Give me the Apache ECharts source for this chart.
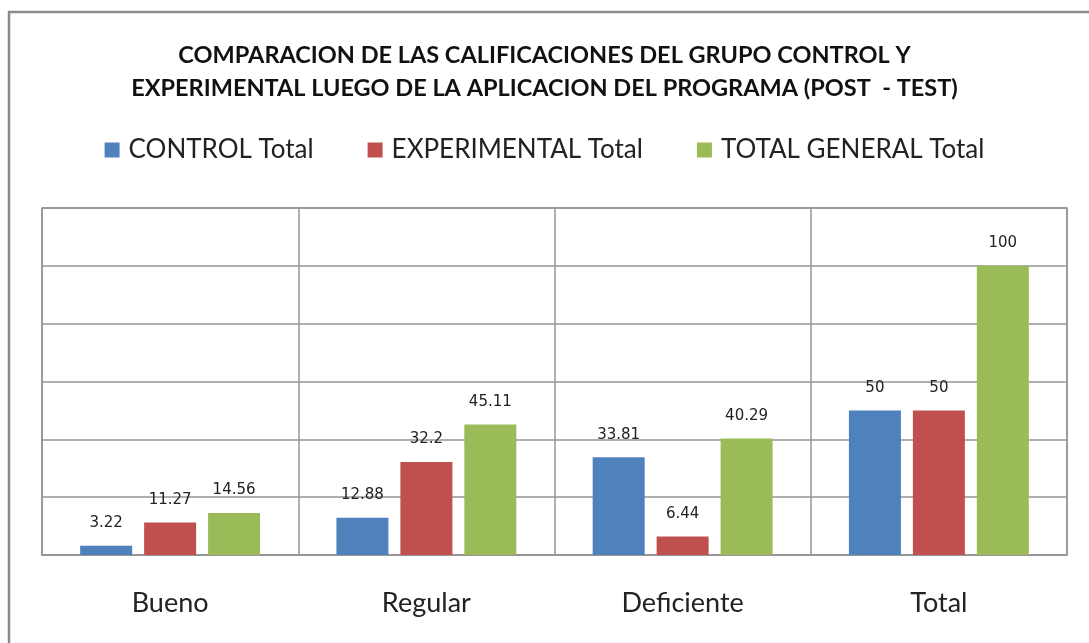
<!DOCTYPE html>
<html>
<head>
<meta charset="utf-8">
<script src="https://cdn.jsdelivr.net/npm/echarts@6/dist/echarts.min.js"></script>
<style>
  html, body { margin: 0; padding: 0; background: #fff; }
  #chart { width: 1089px; height: 643px; }
</style>
</head>
<body>
<div id="chart"></div>
<script>
// datos
var categorias = ['Bueno', 'Regular', 'Deficiente', 'Total'];
var control = [3.22, 12.88, 33.81, 50];
var experimental = [11.27, 32.2, 6.44, 50];
var totalGeneral = [14.56, 45.11, 40.29, 100];
var nombres = ['CONTROL Total', 'EXPERIMENTAL Total', 'TOTAL GENERAL Total'];
var colores = ['#4F81BD', '#C0504D', '#9BBB59'];

var GRIS = '#959595';

function serie(nombre, datos, color) {
    return {
        name: nombre,
        type: 'bar',
        data: datos,
        barWidth: 52,
        barGap: '23%',
        itemStyle: { color: color },
        label: {
            show: true,
            position: 'top',
            distance: 15,
            color: '#222',
            fontFamily: 'DejaVu Sans',
            fontSize: 15
        }
    };
}

var myChart = echarts.init(document.getElementById('chart'));
myChart.setOption({
    animation: false,
    backgroundColor: '#fff',
    color: colores,
    title: {
        text: 'COMPARACION DE LAS CALIFICACIONES DEL GRUPO CONTROL Y\nEXPERIMENTAL LUEGO DE LA APLICACION DEL PROGRAMA (POST  - TEST)',
        left: 'center',
        top: 34,
        textStyle: {
            fontFamily: 'Lato',
            fontWeight: 'bold',
            fontSize: 23.5,
            lineHeight: 33,
            color: '#111'
        }
    },
    legend: {
        top: 132,
        left: 'center',
        itemWidth: 15,
        itemHeight: 15,
        itemGap: 54,
        icon: 'rect',
        textStyle: { fontFamily: 'Lato', fontSize: 26, color: '#222', padding: [0, 0, 0, 4] },
        data: nombres
    },
    graphic: [{
        type: 'rect',
        shape: { x: 9, y: 12, width: 1120, height: 700 },
        style: { fill: null, stroke: '#8a8a8a', lineWidth: 2.5 },
        silent: true
    }],
    grid: {
        left: 42, right: 22, top: 208, bottom: 88,
        show: true, borderColor: GRIS, borderWidth: 1.5
    },
    xAxis: {
        type: 'category',
        data: categorias,
        axisTick: { show: false },
        axisLine: { lineStyle: { color: GRIS, width: 1.5 } },
        splitLine: { show: true, lineStyle: { color: GRIS, width: 1.5 } },
        axisLabel: { margin: 35, fontFamily: 'Lato', fontSize: 27, color: '#222' }
    },
    yAxis: {
        type: 'value',
        min: 0,
        max: 120,
        interval: 20,
        axisLabel: { show: false },
        axisLine: { show: false },
        axisTick: { show: false },
        splitLine: { lineStyle: { color: GRIS, width: 1.5 } }
    },
    series: [
        serie(nombres[0], control, colores[0]),
        serie(nombres[1], experimental, colores[1]),
        serie(nombres[2], totalGeneral, colores[2])
    ]
});
</script>
</body>
</html>
